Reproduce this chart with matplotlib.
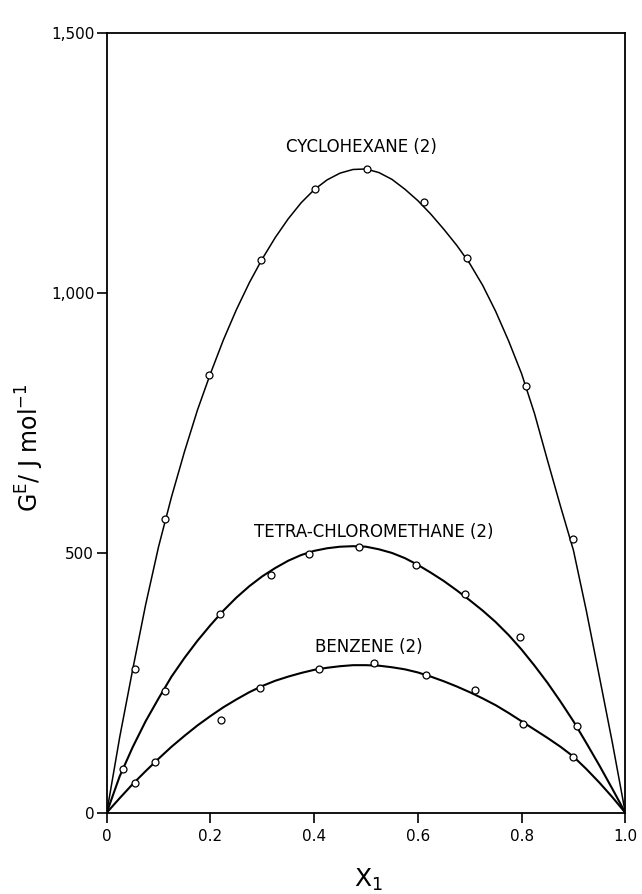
"""Excess Gibbs energy G^E vs mole fraction x1 for three binary mixtures."""

import numpy as np
import matplotlib
matplotlib.use('Agg')
import matplotlib.pyplot as plt
from matplotlib.ticker import FuncFormatter

cyc_x = [0.055, 0.112, 0.198, 0.297, 0.402, 0.501, 0.612, 0.694, 0.808, 0.899]
cyc_y = [276, 565, 842, 1063, 1200, 1238, 1175, 1068, 822, 526]

tet_x = [0.031, 0.112, 0.218, 0.316, 0.391, 0.487, 0.597, 0.691, 0.797, 0.907]
tet_y = [84, 235, 382, 458, 497, 512, 477, 421, 338, 166]

ben_x = [0.054, 0.093, 0.220, 0.296, 0.409, 0.515, 0.615, 0.710, 0.803, 0.900]
ben_y = [58, 98, 179, 241, 276, 289, 265, 237, 171, 108]

# fitted curves, every 0.025 in x1
curve_x = [0.0, 0.025, 0.05, 0.075, 0.1, 0.125, 0.15, 0.175, 0.2, 0.225,
           0.25, 0.275, 0.3, 0.325, 0.35, 0.375, 0.4, 0.425, 0.45, 0.475,
           0.5, 0.525, 0.55, 0.575, 0.6, 0.625, 0.65, 0.675, 0.7, 0.725,
           0.75, 0.775, 0.8, 0.825, 0.85, 0.875, 0.9, 0.925, 0.95, 0.975, 1.0]
cyc_fit = [0, 145, 275, 400, 512, 608, 695, 775, 845, 910,
           968, 1020, 1066, 1107, 1143, 1174, 1199, 1218, 1231, 1238,
           1239, 1232, 1219, 1200, 1178, 1152, 1123, 1092, 1057, 1015,
           965, 908, 845, 768, 678, 590, 505, 388, 262, 135, 0]
tet_fit = [0, 70, 126, 176, 220, 262, 298, 331, 361, 389,
           414, 436, 455, 471, 485, 496, 504, 509, 512, 513,
           512, 507, 500, 490, 477, 462, 446, 428, 409, 389,
           367, 342, 314, 283, 250, 214, 176, 134, 91, 46, 0]
ben_fit = [0, 28, 55, 80, 104, 127, 148, 168, 186, 203,
           218, 232, 244, 254, 262, 269, 275, 279, 282, 284,
           284, 283, 280, 276, 270, 262, 253, 243, 232, 220,
           207, 192, 176, 160, 144, 127, 108, 84, 58, 30, 0]

labels = ['CYCLOHEXANE (2)', 'TETRA-CHLOROMETHANE (2)', 'BENZENE (2)']
label_pos = [(0.492, 1281), (0.514, 540), (0.505, 319)]

x_ticks = [0, 0.2, 0.4, 0.6, 0.8, 1.0]
x_ticklabels = ['0', '0.2', '0.4', '0.6', '0.8', '1.0']
y_ticks = [0, 500, 1000, 1500]

fig = plt.figure(figsize=(6.42, 8.94), dpi=100)
ax = fig.add_axes([0.1662, 0.0909, 0.8078, 0.8718])

ax.plot(curve_x, cyc_fit, 'k-', linewidth=1.1)
ax.plot(curve_x, tet_fit, 'k-', linewidth=1.5)
ax.plot(curve_x, ben_fit, 'k-', linewidth=1.5)

for xs, ys in [(cyc_x, cyc_y), (tet_x, tet_y), (ben_x, ben_y)]:
    ax.plot(xs, ys, 'o', markersize=5, markerfacecolor='white',
            markeredgecolor='black', markeredgewidth=0.9, linestyle='none')

for text, (tx, ty) in zip(labels, label_pos):
    ax.text(tx, ty, text, ha='center', va='center', fontsize=12)

ax.set_xlim(0, 1.0)
ax.set_ylim(0, 1500)
ax.set_xticks(x_ticks)
ax.set_xticklabels(x_ticklabels)
ax.set_yticks(y_ticks)
ax.yaxis.set_major_formatter(FuncFormatter(lambda v, p: f'{int(v):,}'))
ax.tick_params(axis='both', direction='out', length=7, width=1.2,
               labelsize=11, color='black')
ax.tick_params(axis='y', pad=2)
ax.tick_params(axis='x', pad=5)
for sp in ax.spines.values():
    sp.set_linewidth(1.3)

ax.text(0.505, -0.069, 'X$_1$', transform=ax.transAxes,
        ha='center', va='top', fontsize=18)
ax.text(-0.148, 0.469, r'G$^{\mathrm{E}}$/ J mol$^{-1}$', transform=ax.transAxes,
        rotation=90, ha='center', va='center', fontsize=17)

plt.savefig('out.png', dpi=100)
plt.close(fig)
